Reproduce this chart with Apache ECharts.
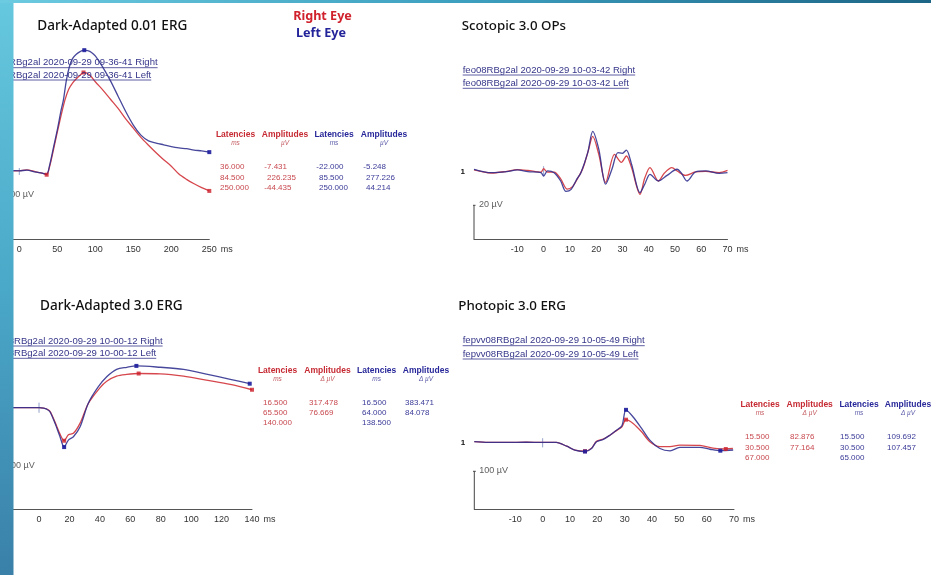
<!DOCTYPE html>
<html>
<head>
<meta charset="utf-8">
<script src="https://cdn.jsdelivr.net/npm/echarts@6/dist/echarts.min.js"></script>
<style>
  html, body { margin: 0; padding: 0; background: #ffffff; }
  #chart { width: 931px; height: 575px; }
</style>
</head>
<body>
<div id="chart"></div>
<script>
// ---------- Dark-Adapted 0.01 ERG (values in µV, time in ms) ----------
const da001RightMs = [-25, -20, -10, 0, 10, 20, 30, 40, 45, 50, 55, 60, 65, 70, 75, 80, 90, 95, 100, 110, 120, 130, 140, 150, 160, 170, 180, 190, 200, 210, 220, 230, 240];
const da001RightUv = [1, 2, 1.5, 2, 3.5, 0, -4, 12, 50, 90, 128, 163, 188, 202, 212, 220, 224, 216, 205, 186, 165, 144, 120, 99, 78, 60, 43, 27, 12, -6, -18, -28, -37];
const da001LeftMs = [-25, -10, 0, 10, 20, 30, 36, 40, 45, 50, 55, 58, 62, 66, 70, 75, 80, 90, 95, 100, 110, 120, 130, 140, 150, 160, 170, 180, 190, 200, 210, 220, 230, 240];
const da001LeftUv = [1, 2, 1.5, 3, -1, -4, -6, 15, 55, 95, 140, 163, 209, 240, 258, 268, 274, 276, 272, 264, 238, 207, 172, 137, 106, 83, 70, 65, 61, 57, 54, 52, 49, 47];
const da001RightLat = ['36.000', '84.500', '250.000'];
const da001RightAmp = ['-7.431', '226.235', '-44.435'];
const da001LeftLat = ['-22.000', '85.500', '250.000'];
const da001LeftAmp = ['-5.248', '277.226', '44.214'];
const da001Ticks = [0, 50, 100, 150, 200, 250];

// ---------- Scotopic 3.0 oscillatory potentials ----------
const opsRightMs = [-26.5, -20, -14, -10, -6, -1, 0, 1.5, 4, 6.5, 9, 11, 13, 15, 17, 18.7, 21, 23.6, 27, 29.6, 31.5, 33.5, 36.7, 38.5, 40.5, 43.7, 46, 48.8, 51, 54, 57.8, 61.7, 66.8, 70];
const opsRightUv = [0.8, -1, 0, 1, 0.5, -0.5, 1.5, -0.5, -0.5, -4.5, -10.5, -9, -4, 2, 12, 20.5, 10, -6.5, 10, 5.3, 9, 2, -13.5, -4, 2.2, -5.7, -1, 2.2, 0, -2.4, -0.4, 0, -0.8, 0.5];
const opsLeftMs = [-26.5, -20, -14, -10, -6, -1, 0, 1.5, 4, 6.5, 8.5, 10.5, 12.5, 14.2, 16.8, 18.7, 21, 23.6, 26, 28.3, 30, 31.5, 33.5, 36.7, 38.5, 40.5, 43.7, 47, 50.8, 52.5, 54.6, 57.8, 61.7, 66.8, 70];
const opsLeftUv = [1.2, -0.8, -0.2, 0.8, -0.2, -0.8, -2.8, 0.2, -0.8, -5.7, -11.8, -10.6, -5, -0.8, 11, 23.5, 13, -7.6, 1.2, 11, 10.6, 12.5, 4, -12.5, -7.6, -1.8, -5.7, -2.4, 1.2, -1.2, -5.7, -0.4, 0.2, -1.2, -0.8];
const opsTicks = [-10, 0, 10, 20, 30, 40, 50, 60, 70];

// ---------- Dark-Adapted 3.0 ERG ----------
const da30RightMs = [-25, -10, 0, 3, 5, 7.2, 10.5, 13.8, 19.3, 22.6, 27, 32.4, 40, 44.5, 51, 57.7, 79.6, 95, 110, 125.7];
const da30RightUv = [0, 0, 0, -2, -6, -17, -68, -125, -128, -121, -73, 20, 94, 125, 149, 157, 160, 149, 130, 110];
const da30LeftMs = [-25, -10, 0, 3, 5, 7.2, 10.5, 13.8, 19.3, 22.6, 27, 32.4, 39, 44.5, 51, 57.7, 79.6, 95, 110, 125.7];
const da30LeftUv = [0, 0, 0, -2, -7, -19, -74, -137, -153, -137, -90, 21, 99, 146, 181, 191, 191, 181, 159, 134];
const da30RightTrough = -156;
const da30LeftTrough = -186;
const da30RightLat = ['16.500', '65.500', '140.000'];
const da30RightAmp = ['317.478', '76.669'];
const da30LeftLat = ['16.500', '64.000', '138.500'];
const da30LeftAmp = ['383.471', '84.078'];
const da30Ticks = [0, 20, 40, 60, 80, 100, 120, 140];

// ---------- Photopic 3.0 ERG ----------
const ph30RightMs = [-25, -20, -13, -6, 0, 5, 8.8, 11.8, 17.9, 19.7, 22.2, 24.6, 27, 29, 33.1, 36.2, 39.2, 42.9, 46.6, 50.2, 57.5, 62.3, 69.6];
const ph30RightUv = [3, 1, 1, 1.5, 1, 1, -9, -19, -14, 4, 10, 20, 32, 42, 51, 29, 3, -10, -10, -6, -7, -14, -15];
const ph30LeftMs = [-25, -20, -13, -6, 0, 5, 8.8, 11.8, 17.9, 19.7, 22.2, 24.6, 27, 29, 33.1, 36.2, 39.2, 42.9, 46.6, 50.2, 57.5, 61.2, 69.7];
const ph30LeftUv = [3, 1, 1, 1.5, 1, 1, -9, -19, -15, 3, 9, 20, 33, 45, 68, 38, 7, -15, -21, -12, -12, -17, -19];
const ph30RightTrough = -22;
const ph30LeftTrough = -23;
const ph30RightLat = ['15.500', '30.500', '67.000'];
const ph30RightAmp = ['82.876', '77.164'];
const ph30LeftLat = ['15.500', '30.500', '65.000'];
const ph30LeftAmp = ['109.692', '107.457'];
const ph30Ticks = [-10, 0, 10, 20, 30, 40, 50, 60, 70];

// ---------- styling ----------
const RED = '#d6474d';
const BLUE = '#2e2e8e';
const RED_MARK = '#cc1f2a';
const BLUE_MARK = '#1d1d9c';
const RED_TEXT = '#c62a33';
const BLUE_TEXT = '#28289a';
const LINK = '#36368a';
const SANS = '"Liberation Sans", Arial, sans-serif';
const TITLE_FONT = '"Noto Sans", "Open Sans", sans-serif';

const measureCtx = document.createElement('canvas').getContext('2d');
function textWidth(str, font) { measureCtx.font = font; return measureCtx.measureText(str).width; }
function fitSize(str, family, weight, width) {
  const w = textWidth(str, weight + ' 20px ' + family);
  return 20 * width / w;
}

// measured points (a-wave, b-wave, end) from the tables
const da001RightPts = da001RightLat.map((l, i) => [parseFloat(l), parseFloat(da001RightAmp[i])]);
const da001LeftPts = da001LeftLat.map((l, i) => [parseFloat(l), parseFloat(da001LeftAmp[i])]);
function deltaPts(lat, amp, trough) {
  const b = trough + parseFloat(amp[0]);
  return [[parseFloat(lat[0]), trough], [parseFloat(lat[1]), b], [parseFloat(lat[2]), b - parseFloat(amp[1])]];
}
const da30RightPts = deltaPts(da30RightLat, da30RightAmp, da30RightTrough);
const da30LeftPts = deltaPts(da30LeftLat, da30LeftAmp, da30LeftTrough);
const ph30RightPts = deltaPts(ph30RightLat, ph30RightAmp, ph30RightTrough);
const ph30LeftPts = deltaPts(ph30LeftLat, ph30LeftAmp, ph30LeftTrough);

function tracePoints(ms, uv, pts) {
  return ms.map((t, i) => [t, uv[i]]).concat(pts).sort((a, b) => a[0] - b[0]);
}

// panel layout: grid box, axis ranges, scale bar
const panels = [
  { grid: { left: 0.3, top: 40.2, width: 209, height: 199.1 }, x: [-25, 250], y: [-155, 300], ticks: da001Ticks,
    scale: 100, stim: 8, nameGap: 5,
    right: tracePoints(da001RightMs, da001RightUv, da001RightPts), left: tracePoints(da001LeftMs, da001LeftUv, da001LeftPts),
    rightPts: da001RightPts, leftPts: da001LeftPts, channel: false },
  { grid: { left: 474, top: 120.3, width: 253.5, height: 119 }, x: [-26.5, 70], y: [-40, 30], ticks: opsTicks,
    scale: 20, stim: 3, nameGap: 6,
    right: tracePoints(opsRightMs, opsRightUv, []), left: tracePoints(opsLeftMs, opsLeftUv, []),
    rightPts: [], leftPts: [], channel: true },
  { grid: { left: 1, top: 344.2, width: 251, height: 165.1 }, x: [-25, 140], y: [-480, 300], ticks: da30Ticks,
    scale: 200, stim: 24, nameGap: 5,
    right: tracePoints(da30RightMs, da30RightUv, da30RightPts), left: tracePoints(da30LeftMs, da30LeftUv, da30LeftPts),
    rightPts: da30RightPts, leftPts: da30LeftPts, channel: false },
  { grid: { left: 474.3, top: 395.3, width: 259.7, height: 114 }, x: [-25, 70], y: [-175, 125], ticks: ph30Ticks,
    scale: 100, stim: 12, nameGap: 7,
    right: tracePoints(ph30RightMs, ph30RightUv, ph30RightPts), left: tracePoints(ph30LeftMs, ph30LeftUv, ph30LeftPts),
    rightPts: ph30RightPts, leftPts: ph30LeftPts, channel: true }
];

const grid = [], xAxis = [], yAxis = [], series = [];
panels.forEach((p, i) => {
  grid.push(Object.assign({ containLabel: false, outerBoundsMode: 'none' }, p.grid));
  xAxis.push({
    type: 'value', gridIndex: i, min: p.x[0], max: p.x[1],
    name: 'ms', nameLocation: 'end', nameGap: p.nameGap,
    nameTextStyle: { color: '#333', fontSize: 9, fontFamily: SANS, verticalAlign: 'top', padding: [5.5, 0, 0, 0] },
    axisLine: { show: true, onZero: false, lineStyle: { color: '#555', width: 1 } },
    axisTick: { show: false },
    splitLine: { show: false },
    axisLabel: { customValues: p.ticks, color: '#333', fontSize: 9, fontFamily: SANS, margin: 6, showMinLabel: true, showMaxLabel: true }
  });
  yAxis.push({
    type: 'value', gridIndex: i, min: p.y[0], max: p.y[1],
    axisLine: { show: false }, axisTick: { show: false }, splitLine: { show: false },
    axisLabel: p.channel
      ? { customValues: [0], formatter: () => '1', color: '#111', fontWeight: 'bold', fontSize: 8, fontFamily: SANS, margin: 9 }
      : { show: false }
  });
  const pxPerX = p.grid.width / (p.x[1] - p.x[0]);
  const top = p.y[0] + p.scale;
  // stimulus marker at 0 ms
  series.push({ type: 'line', xAxisIndex: i, yAxisIndex: i, data: [[0, -p.stim], [0, p.stim]], showSymbol: false,
    lineStyle: { color: '#93a2cc', width: 1 }, silent: true, z: 1 });
  // amplitude scale bar
  series.push({ type: 'line', xAxisIndex: i, yAxisIndex: i, data: [[p.x[0], p.y[0]], [p.x[0], top]], showSymbol: false,
    lineStyle: { color: '#444', width: 1 }, silent: true, clip: false, z: 2 });
  series.push({ type: 'line', xAxisIndex: i, yAxisIndex: i, data: [[p.x[0] - 1.5 / pxPerX, top], [p.x[0] + 1.5 / pxPerX, top]], showSymbol: false,
    lineStyle: { color: '#444', width: 1 }, silent: true, clip: false, z: 2 });
  series.push({ type: 'scatter', xAxisIndex: i, yAxisIndex: i, data: [[p.x[0], top]], symbolSize: 0, silent: true, clip: false,
    label: { show: true, position: 'right', distance: 5, offset: [0, -1], formatter: p.scale + ' µV', color: '#333', fontSize: 9, fontFamily: SANS } });
  // right eye (red) then left eye (blue)
  series.push({ type: 'line', xAxisIndex: i, yAxisIndex: i, data: p.right, showSymbol: false, smooth: 0.3,
    lineStyle: { color: RED, width: 1.3 }, silent: true, z: 3 });
  series.push({ type: 'line', xAxisIndex: i, yAxisIndex: i, data: p.left, showSymbol: false, smooth: 0.3,
    lineStyle: { color: BLUE, width: 1.3, opacity: 0.88 }, silent: true, z: 4 });
  if (p.rightPts.length) {
    series.push({ type: 'scatter', xAxisIndex: i, yAxisIndex: i, data: p.rightPts, symbol: 'rect', symbolSize: 4,
      itemStyle: { color: RED_MARK }, silent: true, z: 5 });
    series.push({ type: 'scatter', xAxisIndex: i, yAxisIndex: i, data: p.leftPts, symbol: 'rect', symbolSize: 4,
      itemStyle: { color: BLUE_MARK, opacity: 0.9 }, silent: true, z: 6 });
  }
});

// ---------- text: titles, record links, tables ----------
const graphic = [];
function text(str, x, y, font, fill, align, z) {
  graphic.push({ type: 'text', x: x, y: y, z: z || 50, silent: true,
    style: { text: str, font: font, fill: fill, align: align || 'left', textAlign: align || 'left', verticalAlign: 'middle', textVerticalAlign: 'middle' } });
}
function title(str, x, y, width) {
  const size = fitSize(str, TITLE_FONT, '500', width);
  text(str, x, y, '500 ' + size.toFixed(2) + 'px ' + TITLE_FONT, '#111111', 'left');
}
title('Dark-Adapted 0.01 ERG', 37.3, 26, 150);
title('Scotopic 3.0 OPs', 461.7, 26.7, 104.3);
title('Dark-Adapted 3.0 ERG', 40, 306, 142.7);
title('Photopic 3.0 ERG', 458.3, 306, 107.7);

const rightEyeSize = fitSize('Right Eye', TITLE_FONT, 'bold', 58.7);
text('Right Eye', 322.5, 16, 'bold ' + rightEyeSize.toFixed(2) + 'px ' + TITLE_FONT, '#d0222c', 'center');
text('Left Eye', 321, 33.3, 'bold ' + rightEyeSize.toFixed(2) + 'px ' + TITLE_FONT, '#23239a', 'center');

const linkSize = fitSize('fepvv08RBg2al 2020-09-29 10-05-49 Right', SANS, 'normal', 182.3);
const LINK_FONT = 'normal ' + linkSize.toFixed(2) + 'px ' + SANS;
function link(str, x, y) {
  text(str, x, y, LINK_FONT, LINK, 'left');
  const w = textWidth(str, LINK_FONT);
  graphic.push({ type: 'line', z: 50, silent: true, shape: { x1: x, y1: y + 5, x2: x + w, y2: y + 5 }, style: { stroke: LINK, lineWidth: 0.8 } });
}
const p1x = 9 - textWidth('feo08', LINK_FONT);
link('feo08RBg2al 2020-09-29 09-36-41 Right', p1x, 62.7);
link('feo08RBg2al 2020-09-29 09-36-41 Left', p1x, 75);
link('feo08RBg2al 2020-09-29 10-03-42 Right', 462.7, 70);
link('feo08RBg2al 2020-09-29 10-03-42 Left', 462.7, 83.3);
const p3x = 14 - textWidth('fe08', LINK_FONT);
link('fe08RBg2al 2020-09-29 10-00-12 Right', p3x, 341);
link('fe08RBg2al 2020-09-29 10-00-12 Left', p3x, 353.3);
link('fepvv08RBg2al 2020-09-29 10-05-49 Right', 462.7, 340.7);
link('fepvv08RBg2al 2020-09-29 10-05-49 Left', 462.7, 354);

const HEAD_FONT = 'bold 8.5px ' + SANS;
const SUB_FONT = 'italic 6.5px ' + SANS;
const VAL_FONT = 'normal 8px ' + SANS;
function table(t) {
  const headColors = [RED_TEXT, RED_TEXT, BLUE_TEXT, BLUE_TEXT];
  const subColors = ['#c45a60', '#c45a60', '#5a5aa8', '#5a5aa8'];
  const valColors = ['#c8494f', '#c8494f', '#3a3a98', '#3a3a98'];
  ['Latencies', 'Amplitudes', 'Latencies', 'Amplitudes'].forEach((h, c) => {
    text(h, t.heads[c], t.headY, HEAD_FONT, headColors[c], 'center');
    text(t.subs[c], t.heads[c], t.subY, SUB_FONT, subColors[c], 'center');
  });
  t.cols.forEach((col, c) => {
    col.forEach((v, r) => {
      let x = t.digitX[c];
      if (v.charAt(0) === '-') x -= textWidth('-', VAL_FONT);
      text(v, x, t.rows[r], VAL_FONT, valColors[c], 'left');
    });
  });
}
table({ heads: [235.5, 285, 334, 384], headY: 135, subY: 143, subs: ['ms', 'µV', 'ms', 'µV'],
  digitX: [220, 267, 319, 366], rows: [167, 177.5, 188],
  cols: [da001RightLat, da001RightAmp, da001LeftLat, da001LeftAmp] });
table({ heads: [277.5, 327.5, 376.7, 426], headY: 371, subY: 379.5, subs: ['ms', 'Δ µV', 'ms', 'Δ µV'],
  digitX: [263, 309, 362, 405], rows: [403, 413, 423],
  cols: [da30RightLat, da30RightAmp, da30LeftLat, da30LeftAmp] });
table({ heads: [760, 809.7, 859, 908], headY: 405, subY: 413.3, subs: ['ms', 'Δ µV', 'ms', 'Δ µV'],
  digitX: [745, 790, 840, 887], rows: [437, 447.5, 458],
  cols: [ph30RightLat, ph30RightAmp, ph30LeftLat, ph30LeftAmp] });

// ---------- page frame: side band and top strip ----------
graphic.push({ type: 'rect', z: 100, silent: true, shape: { x: 0, y: 0, width: 13.5, height: 575 },
  style: { fill: new echarts.graphic.LinearGradient(0, 0, 0, 1, [
    { offset: 0, color: '#66c8de' }, { offset: 0.5, color: '#4aa8c8' }, { offset: 1, color: '#3a80a9' }]) } });
graphic.push({ type: 'rect', z: 100, silent: true, shape: { x: 0, y: 0, width: 931, height: 3 },
  style: { fill: new echarts.graphic.LinearGradient(0, 0, 1, 0, [
    { offset: 0, color: '#6ccbe0' }, { offset: 0.5, color: '#3d9fbf' }, { offset: 1, color: '#1c6586' }]) } });

const chart = echarts.init(document.getElementById('chart'), null, { renderer: 'canvas' });
chart.setOption({
  animation: false,
  backgroundColor: '#ffffff',
  grid: grid,
  xAxis: xAxis,
  yAxis: yAxis,
  series: series,
  graphic: graphic
});
</script>
</body>
</html>
